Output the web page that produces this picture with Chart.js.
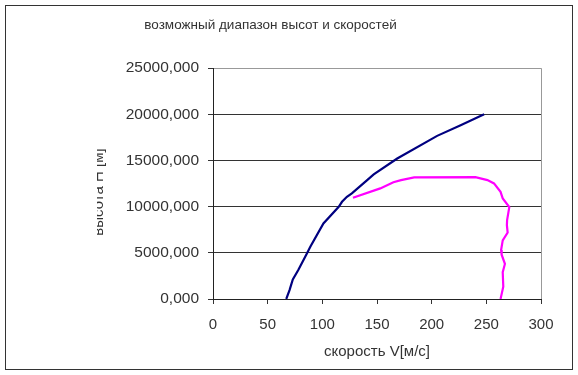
<!DOCTYPE html>
<html>
<head>
<meta charset="utf-8">
<script src="https://cdn.jsdelivr.net/npm/chart.js"></script>
<style>
  html, body { margin: 0; padding: 0; background: #fff; }
  #wrap { position: relative; width: 578px; height: 375px; }
</style>
</head>
<body>
<div id="wrap"><canvas id="chart" width="578" height="375"></canvas></div>
<script>
// values
const titleText = 'возможный диапазон высот и скоростей';
const xTitle = 'скорость V[м/с]';
const yTitle = 'высота Н [м]';

const upperSpeed = [67, 70, 73, 78, 86, 89, 101, 115, 118, 122.5, 127, 141, 147, 168.5, 205, 226.5, 248];
const upperHeight = [0, 970, 2130, 3140, 4950, 5660, 8190, 9990, 10530, 11070, 11440, 12880, 13490, 15220, 17670, 18830, 20000];

const limitSpeed = [128, 153, 165, 172, 184, 240, 251, 257, 263, 265, 271, 269, 268.8, 269.5, 265, 263.5, 264, 267, 265, 265.5, 263];
const limitHeight = [10960, 11980, 12650, 12880, 13170, 13200, 12880, 12520, 11610, 10900, 9950, 8550, 8000, 7200, 6350, 5300, 4800, 3800, 2900, 1330, 0];

const xTicks = [0, 50, 100, 150, 200, 250, 300];
const yTicks = [0, 5000, 10000, 15000, 20000, 25000];

const font = 'Liberation Sans';

const toPoints = (xs, ys) => xs.map((x, i) => ({ x: x, y: ys[i] }));

// frame around the whole picture + clipped vertical axis title
const framePlugin = {
  id: 'frame',
  afterDraw(chart) {
    const ctx = chart.ctx;
    ctx.save();
    ctx.strokeStyle = '#333';
    ctx.lineWidth = 1;
    ctx.strokeRect(5.5, 5.5, 567, 364);
    ctx.beginPath();
    ctx.rect(97, 0, 20, 375);
    ctx.clip();
    ctx.translate(102.5, 192);
    ctx.rotate(-Math.PI / 2);
    ctx.fillStyle = '#333';
    ctx.font = '15px "' + font + '"';
    ctx.textAlign = 'center';
    ctx.textBaseline = 'alphabetic';
    ctx.fillText(yTitle, 0, 0);
    ctx.restore();
  }
};

new Chart(document.getElementById('chart'), {
  type: 'scatter',
  data: {
    datasets: [
      {
        data: toPoints(upperSpeed, upperHeight),
        showLine: true,
        borderColor: '#000080',
        borderWidth: 2.2,
        pointRadius: 0,
        tension: 0
      },
      {
        data: toPoints(limitSpeed, limitHeight),
        showLine: true,
        borderColor: '#ff00ff',
        borderWidth: 2.2,
        pointRadius: 0,
        tension: 0
      }
    ]
  },
  options: {
    responsive: false,
    animation: false,
    layout: { padding: { left: 0, right: 37, top: 0, bottom: 0 } },
    plugins: {
      legend: { display: false },
      tooltip: { enabled: false },
      title: {
        display: true,
        text: titleText,
        color: '#333',
        font: { family: font, size: 13.5, weight: 'normal' },
        padding: { top: 17, bottom: 35 }
      }
    },
    scales: {
      x: {
        type: 'linear',
        min: 0,
        max: 300,
        afterBuildTicks: (scale) => { scale.ticks = xTicks.map(v => ({ value: v })); },
        afterFit: (scale) => { scale.height = 76; },
        ticks: {
          color: '#333',
          padding: 12,
          font: { family: font, size: 15 }
        },
        grid: {
          color: (c) => c.tick && c.tick.value === 300 ? '#999' : 'rgba(0,0,0,0)',
          tickColor: '#333',
          tickLength: 5,
          tickWidth: 1
        },
        border: { color: '#222', width: 1 },
        title: {
          display: true,
          text: xTitle,
          color: '#333',
          font: { family: font, size: 15 },
          padding: { top: 4, bottom: 14 }
        }
      },
      y: {
        type: 'linear',
        min: 0,
        max: 25000,
        afterBuildTicks: (scale) => { scale.ticks = yTicks.map(v => ({ value: v })); },
        afterFit: (scale) => { scale.width = 213; },
        ticks: {
          color: '#333',
          padding: 9,
          font: { family: font, size: 15.5 },
          callback: (v) => v.toFixed(3).replace('.', ',')
        },
        grid: {
          color: (c) => c.tick && c.tick.value === 25000 ? '#999' : '#333',
          tickColor: '#333',
          tickLength: 5
        },
        border: { color: '#222', width: 1 }
      }
    }
  },
  plugins: [framePlugin]
});
</script>
</body>
</html>
